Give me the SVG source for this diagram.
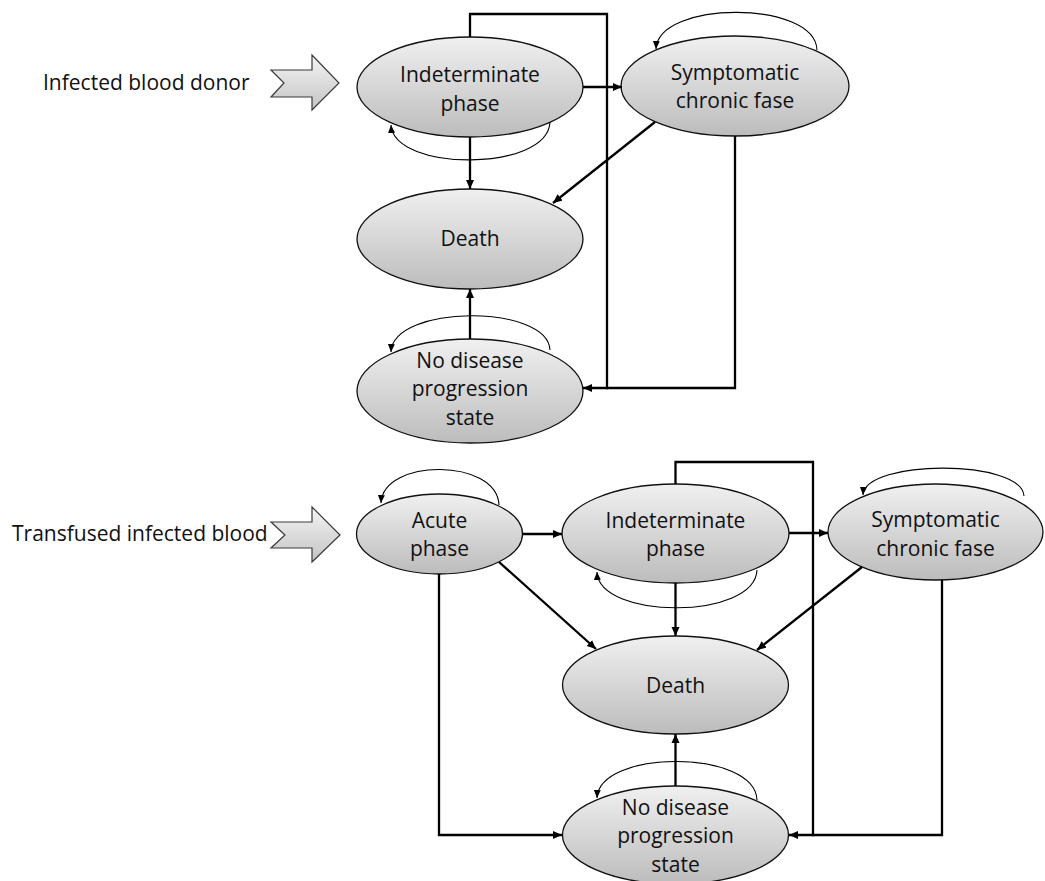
<svg xmlns="http://www.w3.org/2000/svg" width="1045" height="881" viewBox="0 0 1045 881">
<defs>
<linearGradient id="gNode" x1="0" y1="0" x2="0" y2="1">
<stop offset="0" stop-color="#f0f0f0"/>
<stop offset="1" stop-color="#bcbcbc"/>
</linearGradient>
<linearGradient id="gArrow" x1="0" y1="0" x2="0" y2="1">
<stop offset="0" stop-color="#f4f4f4"/>
<stop offset="1" stop-color="#c4c4c4"/>
</linearGradient>
<marker id="ah" markerUnits="userSpaceOnUse" markerWidth="10" markerHeight="9" refX="9" refY="4.5" orient="auto">
<path d="M0,0.5 L9,4.5 L0,8.5 z" fill="#000"/>
</marker>
<marker id="ahs" markerUnits="userSpaceOnUse" markerWidth="9" markerHeight="8" refX="8" refY="4" orient="auto">
<path d="M0,0.5 L8,4 L0,7.5 z" fill="#000"/>
</marker>
</defs>
<style>
.node ellipse { fill: url(#gNode); stroke: #111; stroke-width: 1.3; }
.node text, .label { font-family: "Open Sans", "Liberation Sans", sans-serif; font-size: 21px; fill: #111; }
.node text { text-anchor: middle; }
.inarrow { fill: url(#gArrow); stroke: #3a3a3a; stroke-width: 1.2; }
.c { fill: none; stroke: #000; stroke-width: 2.3; }
.c.a { marker-end: url(#ah); }
.loop { fill: none; stroke: #000; stroke-width: 1.1; marker-end: url(#ahs); }
</style>

<!-- Top diagram -->
<g id="label-top">
<text class="label" x="43" y="89.5">Infected blood donor</text>
<polygon class="inarrow" points="271,70 312,70 312,55 339,83 312,110 312,97 271,97 284,83"/>
</g>
<g id="top-indeterminate" class="node">
<ellipse cx="470" cy="87" rx="113" ry="50"/>
<text x="470" y="82">Indeterminate</text>
<text x="470" y="111">phase</text>
</g>
<g id="top-symptomatic" class="node">
<ellipse cx="735" cy="86" rx="114" ry="50"/>
<text x="735" y="79.5">Symptomatic</text>
<text x="735" y="107.5">chronic fase</text>
</g>
<g id="top-death" class="node">
<ellipse cx="470" cy="239" rx="113" ry="50"/>
<text x="470" y="246">Death</text>
</g>
<g id="top-nodisease" class="node">
<ellipse cx="470" cy="391" rx="113" ry="52"/>
<text x="470" y="367.5">No disease</text>
<text x="470" y="396">progression</text>
<text x="470" y="424.5">state</text>
</g>

<!-- Bottom diagram -->
<g id="label-bottom">
<text class="label" x="12" y="540.5">Transfused infected blood</text>
<polygon class="inarrow" points="271,522 312,522 312,507 340,535 312,562 312,548 271,548 285,535"/>
</g>
<g id="bot-acute" class="node">
<ellipse cx="439.5" cy="534" rx="83" ry="40"/>
<text x="439.5" y="527.5">Acute</text>
<text x="439.5" y="555.5">phase</text>
</g>
<g id="bot-indeterminate" class="node">
<ellipse cx="675.5" cy="533.5" rx="113.5" ry="49.5"/>
<text x="675.5" y="527.5">Indeterminate</text>
<text x="675.5" y="556">phase</text>
</g>
<g id="bot-symptomatic" class="node">
<ellipse cx="935.5" cy="532" rx="107.5" ry="48"/>
<text x="935.5" y="527">Symptomatic</text>
<text x="935.5" y="555.5">chronic fase</text>
</g>
<g id="bot-death" class="node">
<ellipse cx="675.5" cy="685" rx="113" ry="49"/>
<text x="675.5" y="692.5">Death</text>
</g>
<g id="bot-nodisease" class="node">
<ellipse cx="675.5" cy="835" rx="113" ry="49"/>
<text x="675.5" y="814.5">No disease</text>
<text x="675.5" y="843">progression</text>
<text x="675.5" y="871.5">state</text>
</g>

<g id="connectors">
<!-- top -->
<path class="c a" d="M583,87 H622"/>
<path class="c a" d="M470,137 V189"/>
<path class="c a" d="M655,122 L553,203"/>
<path class="c a" d="M470,339 V289"/>
<path class="c a" d="M470,37 V14 H607 V388 H583"/>
<path class="c" d="M735,136 V388 H606"/>
<path class="loop" d="M550,122 C548,172 394,172 391,125"/>
<path class="loop" d="M817,50 C815,0 658,0 656,49"/>
<path class="loop" d="M550,350 C548,304 393,304 391,352"/>
<!-- bottom -->
<path class="c a" d="M522,534 H562"/>
<path class="c a" d="M789,533 H828"/>
<path class="c a" d="M499,562 L596,649"/>
<path class="c a" d="M675.5,583 V636"/>
<path class="c a" d="M862,567 L757,650"/>
<path class="c a" d="M675.5,786 V734"/>
<path class="c a" d="M439,574 V835 H562"/>
<path class="c a" d="M675.5,484 V462 H813 V835 H789"/>
<path class="c" d="M942,580 V835 H812"/>
<path class="loop" d="M499,505 C497,458 383,458 381,503"/>
<path class="loop" d="M757,570 C755,620 599,620 597,572"/>
<path class="loop" d="M1024,496 C1022,459 865,459 863,495"/>
<path class="loop" d="M757,800 C755,749 599,749 597,798"/>
</g>
</svg>
